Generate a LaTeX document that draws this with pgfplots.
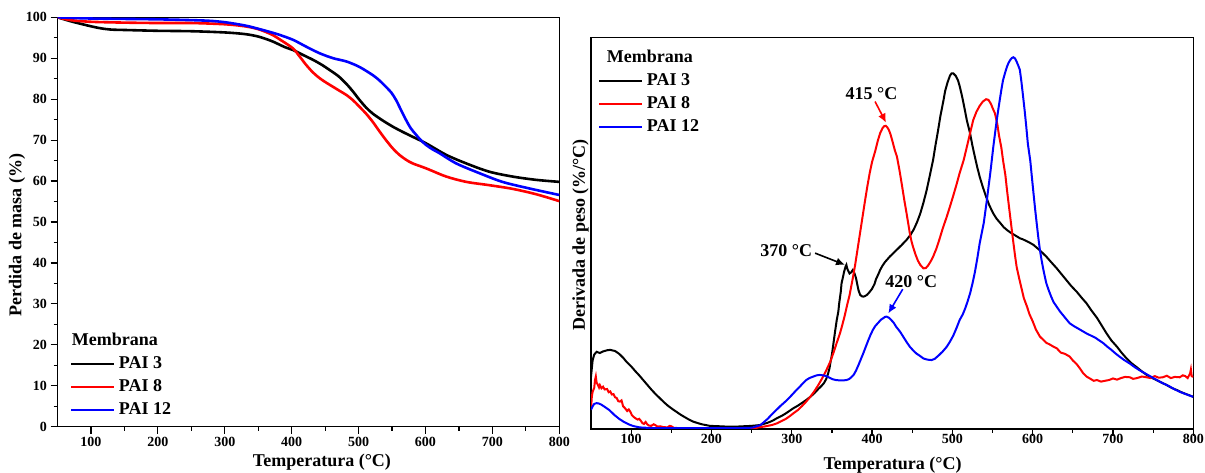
\documentclass[border=0pt]{standalone}
\usepackage{fontspec}
\setmainfont{Liberation Serif}
\usepackage{pgfplots}
\pgfplotsset{compat=1.18}
\usetikzlibrary{arrows.meta}
\newcommand{\lbl}{\fontsize{18}{20}\selectfont\bfseries}
\newcommand{\tkl}{\fontsize{14}{15}\selectfont\bfseries}
\pgfplotsset{
  common/.style={
    scale only axis,
    axis line style={line width=1.2pt},
    tick align=outside, tick pos=left,
    major tick length=7pt, minor tick length=4pt,
    every tick/.style={line width=1.2pt, black},
    xmin=50, xmax=800,
    xtick={100,200,...,800}, minor x tick num=1,
    /pgf/number format/assume math mode=true,
    ticklabel style={font=\tkl},
    label style={font=\lbl},
    legend cell align=left,
    legend image code/.code={\draw[#1,line width=2.2pt] (0pt,0pt) -- (43pt,0pt);},
  },
}
\begin{document}
\begin{tikzpicture}
\path[use as bounding box] (0,0) rectangle (1205pt,473pt);
% ---------------- Left: TGA ----------------
\begin{axis}[common,
  at={(57.5pt,46.3pt)}, anchor=south west,
  width=501.8pt, height=409.4pt,
  ymin=0, ymax=100,
  ytick={0,10,...,100}, minor y tick num=1,
  xlabel={Temperatura (°C)}, ylabel={Perdida de masa (\%)},
  xlabel style={at={(axis description cs:0.527,-0.086)}, anchor=center},
  ylabel style={at={(axis description cs:-0.0807,0.468)}, anchor=center},
  legend style={at={(axis description cs:0.025,0.2386)}, anchor=north west,
    draw=none, fill=none, inner sep=0pt, font=\lbl,
    nodes={text height=13pt, text depth=3pt, inner sep=3.5pt}},
]
\addlegendimage{empty legend}
\addlegendentry{\hspace*{-47pt}Membrana}
\addplot[black, line width=2.6pt, smooth, tension=0.5] coordinates {
(50,100)(62,99.4)(75,98.8)(90,98.2)(100,97.8)(115,97.3)(130,97.0)(150,96.9)(200,96.7)(250,96.6)(300,96.3)(330,95.9)(350,95.3)(370,94.2)(390,92.7)(402,92.0)(417,90.8)(432,89.6)(445,88.4)(457,87.1)(470,85.6)(482,83.7)(492,81.8)(501,79.9)(511,78.0)(521,76.5)(536,74.8)(551,73.3)(566,72.0)(581,70.8)(601,69.2)(631,66.4)(661,64.3)(695,62.3)(730,61.1)(765,60.3)(800,59.8)};
\addlegendentry{PAI 3}
\addplot[red, line width=2.6pt, smooth, tension=0.5] coordinates {
(50,100)(70,99.3)(100,98.9)(150,98.7)(200,98.6)(250,98.6)(300,98.3)(330,97.8)(350,97.1)(370,95.8)(385,94.3)(402,92.4)(412,90.4)(422,88.3)(432,86.5)(442,85.1)(452,84.0)(462,83.0)(472,82.0)(482,81.0)(492,79.7)(501,78.2)(511,76.5)(521,74.5)(531,72.2)(541,70.0)(551,68.0)(561,66.4)(571,65.2)(581,64.3)(601,63.1)(631,61.1)(661,59.8)(695,59.0)(730,58.1)(765,56.8)(800,55.1)};
\addlegendentry{PAI 8}
\addplot[blue, line width=2.6pt, smooth, tension=0.5] coordinates {
(50,100)(100,99.7)(200,99.5)(270,99.2)(300,98.8)(330,98.0)(350,97.2)(370,96.3)(382,95.7)(402,94.5)(422,92.8)(442,91.2)(462,90.0)(482,89.2)(501,87.9)(521,85.9)(531,84.6)(541,83.0)(549,81.6)(556,79.8)(563,77.5)(571,74.9)(578,72.9)(586,71.3)(593,70.0)(601,68.8)(611,67.7)(621,66.8)(646,64.3)(681,61.9)(715,59.8)(755,58.2)(800,56.6)};
\addlegendentry{PAI 12}
\end{axis}
% ---------------- Right: DTG ----------------
\begin{axis}[common,
  at={(591pt,44pt)}, anchor=south west,
  width=602.3pt, height=391.7pt,
  ymin=0, ymax=100, ytick=\empty,
  xlabel={Temperatura (°C)}, ylabel={Derivada de peso (\%/°C)},
  xticklabel style={yshift=5pt},
  xlabel style={at={(axis description cs:0.5006,-0.092)}, anchor=center},
  ylabel style={at={(axis description cs:-0.0174,0.495)}, anchor=center},
  legend style={at={(axis description cs:0.0116,0.978)}, anchor=north west,
    draw=none, fill=none, inner sep=0pt, font=\lbl,
    nodes={text height=13pt, text depth=3pt, inner sep=3.5pt}},
]
\addlegendimage{empty legend}
\addlegendentry{\hspace*{-40pt}Membrana}
\addplot[black, line width=2pt] coordinates {
(50,13.4)(52,17.5)(54,19)(57,19.7)(61,19.4)(65,19.8)(70,20.1)(74,20.2)(80,19.9)(85,19.2)(90,18.2)(94,17.2)(100,16)(105,14.8)(110,13.7)(115,12.5)(120,11.3)(125,10.1)(130,9)(136,7.8)(141,6.8)(146,5.9)(152,5)(157,4.3)(162,3.6)(167,3.0)(172,2.4)(177,1.9)(183,1.5)(188,1.2)(193,1.0)(198,0.8)(210,0.7)(220,0.6)(230,0.6)(240,0.7)(250,0.8)(260,1.0)(265,1.3)(270,1.6)(276,2.1)(281,2.7)(287,3.3)(292,3.9)(297,4.6)(302,5.3)(308,6)(313,6.7)(318,7.4)(323,8.2)(328,9.1)(333,10.2)(337,11)(340,11.7)(343,12.8)(345,14)(347,15.5)(348,16.8)(350,19)(352,22)(354,25)(356,27.8)(358,30)(359,32)(361,35)(362,37.2)(364,39)(365,40)(367,41.5)(368,41.9)(369,41)(370,40.5)(372,39.7)(374,40)(376,40.6)(378,39.8)(380,38.5)(382,36.5)(383,35.5)(385,34.3)(387,33.9)(389,33.8)(391,33.9)(394,34.3)(397,35)(400,35.8)(403,37)(405,38.3)(408,39.6)(410,40.6)(413,41.7)(416,42.6)(419,43.3)(422,44)(427,45)(432,46)(437,47)(443,48.3)(448,49.6)(452,51)(456,52.8)(460,55)(464,57.8)(468,61)(472,64.8)(476,68.7)(479,72.5)(482,76)(485,79.8)(489,84)(491,86.3)(494,88.5)(497,90.2)(499,90.8)(501,90.8)(504,90.2)(507,89)(509,87.6)(512,85)(515,82)(518,78.8)(522,75.5)(525,72.3)(528,69.5)(531,66.8)(534,64.4)(538,61.7)(542,59.3)(546,57.1)(551,55)(555,53.7)(560,52.5)(564,51.5)(568,50.8)(572,50.2)(576,49.7)(580,49.2)(584,48.7)(588,48.4)(592,48)(596,47.6)(601,47)(605,46.3)(609,45.6)(613,44.8)(617,44)(623,42.6)(630,41)(636,39.5)(642,38)(648,36.5)(655,35)(661,33.5)(667,32.1)(673,30.3)(680,28.4)(686,26.4)(692,24.4)(698,22.6)(705,21)(711,19.4)(717,18)(723,16.8)(730,15.7)(736,14.7)(742,13.8)(748,13.1)(755,12.4)(761,11.8)(767,11.2)(773,10.5)(780,9.9)(785,9.4)(790,9.0)(795,8.6)(800,8.2)};
\addlegendentry{PAI 3}
\addplot[red, line width=2pt] coordinates {
(50,5)(51,8.2)(52,9.5)(54,10.5)(55,12.5)(56,13.4)(57,11.8)(58,11.5)(60,10.6)(61,11.2)(63,10.4)(65,10.8)(67,10.1)(70,10.2)(72,9.4)(74,9.6)(76,8.8)(78,8.9)(80,8.1)(82,7.9)(84,7.1)(86,7.0)(88,7.3)(90,5.8)(92,5.4)(95,4.6)(97,5.0)(99,4.4)(101,3.5)(103,3.1)(105,2.8)(108,2.4)(110,2.6)(112,2.1)(114,1.5)(116,1.3)(118,1.8)(120,1.2)(122,0.9)(125,0.8)(128,1.2)(130,1.0)(133,0.6)(136,0.7)(140,0.5)(145,0.4)(148,0.8)(150,0.7)(153,0.3)(155,0.3)(160,0.2)(180,0.2)(200,0.1)(230,0.1)(255,0.2)(258,0.4)(261,0.5)(265,0.6)(270,0.8)(275,1.0)(281,1.4)(286,1.9)(292,2.5)(297,3.2)(302,4)(308,4.9)(313,5.9)(318,7)(323,8.2)(328,9.6)(333,11.2)(338,13)(343,15)(348,17.2)(352,19.5)(356,22)(360,24.4)(363,26.6)(366,29)(369,31.7)(372,34.2)(376,38.5)(379,42)(382,46)(385,50)(388,54)(391,58)(394,61.8)(397,65.3)(400,68.2)(404,71)(407,73.5)(410,75.5)(413,76.8)(415,77.3)(417,77.4)(419,77)(421,76.3)(423,75.2)(426,73)(428,71.4)(431,69.5)(434,66.2)(437,62.5)(440,58.6)(443,55)(445,52.5)(447,50)(449,48)(451,46.5)(454,44.6)(457,43)(460,41.9)(464,41)(467,41.1)(470,41.8)(473,42.8)(476,44)(480,46)(484,48.5)(488,51.2)(493,54.2)(497,56.8)(501,59.5)(505,62.3)(509,65.3)(514,68.6)(518,72)(522,75.5)(526,78.9)(530,81)(534,82.5)(538,83.6)(542,84.2)(545,84)(548,83)(551,81.5)(553,80.6)(556,77.8)(558,75)(561,71.8)(563,68.7)(566,64.8)(568,61)(570,57.6)(572,54.2)(574,50.8)(576,47.5)(578,44.3)(580,41.4)(583,38.6)(586,36)(589,33.4)(593,31.2)(596,29.3)(600,27.5)(604,25.4)(609,23.6)(613,22.8)(617,22)(621,21.6)(626,21)(630,20.6)(635,19.5)(640,19.2)(646,18.5)(650,17.5)(655,16.5)(659,15.4)(663,14.2)(667,13.4)(672,12.8)(676,12.3)(680,12.5)(685,12.1)(690,12.3)(695,12.5)(700,12.9)(705,12.6)(710,13.0)(715,13.3)(721,13.2)(725,12.8)(730,13.0)(736,13.4)(742,13.2)(747,13.0)(752,13.5)(757,13.1)(762,13.2)(767,13.6)(772,13.0)(777,13.3)(783,13.2)(787,13.7)(790,13.5)(793,13.0)(796,14.2)(797,15.2)(798,13.5)(800,13.3)};
\addlegendentry{PAI 8}
\addplot[blue, line width=2pt] coordinates {
(50,4.9)(52,5.8)(54,6.4)(57,6.6)(60,6.5)(63,6.2)(66,5.8)(69.5,5.3)(73,4.8)(76,4.2)(79,3.6)(82,3.1)(85,2.6)(88,2.2)(91,1.8)(94,1.5)(98,1.1)(102,0.8)(106,0.6)(111,0.4)(120,0.3)(130,0.2)(160,0.2)(200,0.2)(230,0.2)(248,0.3)(252,0.4)(255,0.6)(258,0.8)(261,1.0)(265,1.7)(270,2.6)(275,3.7)(281,4.9)(286,5.9)(292,7)(297,8)(302,9.1)(306,10)(310,10.8)(314,11.7)(318,12.5)(322,13)(327,13.4)(331,13.7)(335,13.8)(339,13.7)(343,13.5)(347,13.1)(351,12.7)(355,12.5)(360,12.4)(364,12.4)(368,12.5)(371,12.7)(373,13)(375,13.4)(377,13.8)(380,14.9)(383,16.3)(386,17.8)(389,19.3)(392,20.9)(395,22.5)(398,24)(401,25.3)(404,26.3)(408,27.2)(411,27.9)(414,28.3)(416,28.6)(418,28.7)(421,28.4)(424,27.8)(427,27.1)(430,26.1)(435,24.8)(439,23.5)(443,22.2)(447,21)(451,20.1)(455,19.3)(460,18.6)(464,18)(469,17.7)(474,17.6)(478,17.9)(483,18.8)(488,19.8)(493,21)(497,22.3)(501,23.8)(505,25.7)(509,27.8)(513,29.3)(516,30.8)(519,32.6)(522,34.6)(525,37.1)(528,40)(531,43.5)(534,47.4)(537,50.5)(539,52.5)(541,55.5)(543,58.5)(545,61.8)(547,65)(549,68.5)(551,72.1)(553,75.3)(555,78.5)(557,81.3)(559,84)(561,86.6)(563,89)(566,91.2)(568,92.5)(570,93.5)(572,94.2)(574,94.7)(576,94.9)(578,94.6)(580,93.8)(582,92.8)(584,91.7)(586,88.6)(588,85)(590,81.3)(592,77.2)(594,72.8)(597,68.5)(599,64.3)(601,60.2)(603,56.2)(605,52.5)(607,48.9)(609,45.7)(611,43.2)(613,41)(615,39)(617,37.2)(620,35.4)(623,33.8)(626,32.4)(630,31.2)(634,30)(638,29)(642,28)(646,27)(651,26.3)(657,25.6)(662,25)(667,24.4)(672,23.9)(678,23.3)(683,22.6)(688,21.9)(693,21)(698,20.2)(703,19.3)(708,18.5)(714,17.6)(721,16.7)(727,15.8)(733,15)(740,14.2)(746,13.5)(752,12.8)(758,12.1)(765,11.4)(771,10.8)(777,10.1)(783,9.5)(788,9.1)(792,8.8)(796,8.5)(800,8.2)};
\addlegendentry{PAI 12}
% annotations
\node[font=\lbl] at (axis cs:399.3,85.7) {415 °C};
\node[font=\lbl] at (axis cs:293.2,45.6) {370 °C};
\node[font=\lbl] at (axis cs:448.8,37.7) {420 °C};
\draw[red, line width=1.6pt, -{Latex[length=9pt,width=8pt]}] (axis cs:403.7,83.6) -- (axis cs:417.4,78.2);
\draw[black, line width=1.6pt, -{Latex[length=9pt,width=8pt]}] (axis cs:329,44.9) -- (axis cs:366.3,41.9);
\draw[blue, line width=1.6pt, -{Latex[length=9pt,width=8pt]}] (axis cs:438.2,35.7) -- (axis cs:420.2,29.5);
\end{axis}
\end{tikzpicture}
\end{document}
